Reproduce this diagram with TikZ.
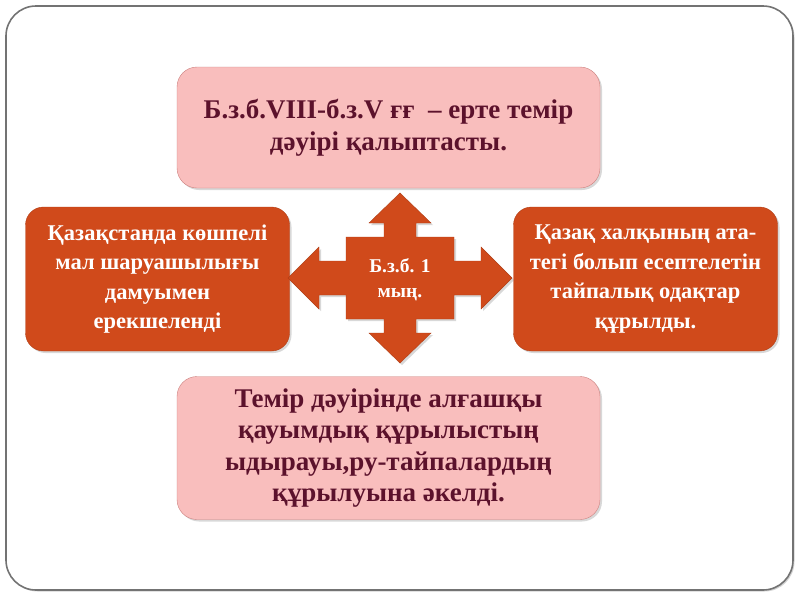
\documentclass[tikz,border=0pt]{standalone}
\usepackage{fontspec}
\setmainfont{Liberation Serif}
\usetikzlibrary{shadows}
\definecolor{rosa}{RGB}{249,190,189}
\definecolor{rosaborde}{RGB}{205,130,128}
\definecolor{ladrillo}{RGB}{208,74,27}
\definecolor{granate}{RGB}{92,18,44}
\begin{document}
\begin{tikzpicture}[x=1pt,y=-1pt,
    sombra/.style={drop shadow={opacity=0.3,shadow xshift=2pt,shadow yshift=-2pt}},
    cajaclara/.style={draw=rosaborde, fill=rosa, rounded corners=20pt, sombra,
      text=granate, align=center, inner sep=0pt, minimum width=423pt,
      font=\bfseries\fontsize{27}{31.5}\selectfont},
    cajaoscura/.style={draw=ladrillo!85!black, fill=ladrillo, rounded corners=18pt, sombra,
      text=white, align=center, inner sep=0pt, minimum width=264pt, minimum height=144pt,
      font=\bfseries\fontsize{22.5}{29.5}\selectfont}]
    \useasboundingbox (0,0) rectangle (800,600);
    % Marco
    \draw[gray!90!black, line width=1.6pt, fill=white, rounded corners=30pt,
      drop shadow={opacity=0.35,shadow xshift=1.5pt,shadow yshift=-1.5pt}]
      (6,6) rectangle (793,590);
    % Cajas claras
    \node[cajaclara, minimum height=121pt] (arriba) at (388.5,127.5)
      {Б.з.б.VIII-б.з.V ғғ~ – ерте темір\\[1pt] дәуірі қалыптасты.};
    \node[cajaclara, minimum height=143pt] (abajo) at (388.5,448)
      {Темір дәуірінде алғашқы\\ қауымдық құрылыстың\\ ыдырауы,ру-тайпалардың\\ құрылуына әкелді.};
    % Cajas oscuras
    \node[cajaoscura] (izq) at (157.5,279)
      {Қазақстанда көшпелі\\ мал шаруашылығы\\ дамуымен\\ ерекшеленді};
    \node[cajaoscura] (der) at (645.5,279)
      {Қазақ халқының ата-\\ тегі болып есептелетін\\ тайпалық одақтар\\ құрылды.};
    % Flecha de cuatro puntas
    \coordinate (c) at (400,278);
    \draw[ladrillo!85!black, fill=ladrillo, sombra, shift={(c)}]
      (0,-85) -- (31,-55) -- (16,-55) -- (16,-41) -- (54,-41) -- (54,-17)
      -- (81,-17) -- (81,-31) -- (112,0) -- (81,31) -- (81,17) -- (54,17)
      -- (54,41) -- (16,41) -- (16,55) -- (31,55) -- (0,85) -- (-31,55)
      -- (-16,55) -- (-16,41) -- (-54,41) -- (-54,17) -- (-81,17) -- (-81,31)
      -- (-112,0) -- (-81,-31) -- (-81,-17) -- (-54,-17) -- (-54,-41)
      -- (-16,-41) -- (-16,-55) -- (-31,-55) -- cycle;
    \node[text=white, align=center, font=\bfseries\fontsize{19.5}{25}\selectfont] (centro) at (400,280)
      {Б.з.б. 1\\ мың.};
  \end{tikzpicture}
\end{document}
